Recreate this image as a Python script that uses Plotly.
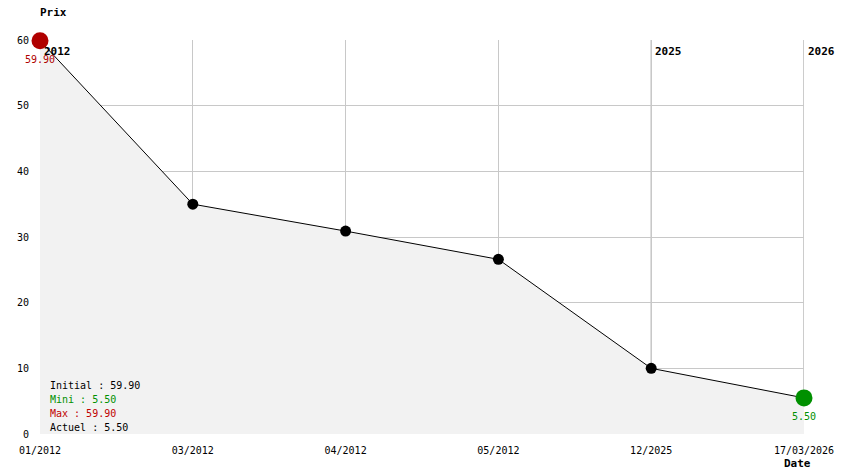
import plotly.graph_objects as go

dates = ["01/2012", "03/2012", "04/2012", "05/2012", "12/2025", "17/03/2026"]
prices = [59.90, 35.0, 30.9, 26.6, 10.0, 5.50]
year_marks = [(0, "2012"), (4, "2025"), (5, "2026")]
summary = [("Initial : 59.90", "#000000"), ("Mini : 5.50", "#009000"),
           ("Max : 59.90", "#c00000"), ("Actuel : 5.50", "#000000")]

FONT = "DejaVu Sans Mono"
xs = list(range(len(dates)))

fig = go.Figure()
fig.add_trace(go.Scatter(
    x=xs, y=prices, mode="lines", fill="tozeroy", fillcolor="#f2f2f2",
    line=dict(color="#000000", width=1), hoverinfo="skip"))
fig.add_trace(go.Scatter(
    x=xs[1:-1], y=prices[1:-1], mode="markers",
    marker=dict(color="#000000", size=11), hoverinfo="skip"))
fig.add_trace(go.Scatter(
    x=[xs[0]], y=[prices[0]], mode="markers",
    marker=dict(color="#b00000", size=17), hoverinfo="skip", cliponaxis=False))
fig.add_trace(go.Scatter(
    x=[xs[-1]], y=[prices[-1]], mode="markers",
    marker=dict(color="#009000", size=17), hoverinfo="skip", cliponaxis=False))

# year separator lines
for xi, lab in year_marks[1:]:
    fig.add_shape(type="line", x0=xi, x1=xi, y0=0, y1=60, xref="x", yref="y",
                  line=dict(color="#999999", width=1), layer="below")
for xi, lab in year_marks:
    fig.add_annotation(x=xi, y=60, xref="x", yref="y", text="<b>" + lab + "</b>",
                       showarrow=False, xanchor="left", yanchor="middle", xshift=2, yshift=-11,
                       font=dict(family=FONT, size=11, color="#000000"))

fig.add_annotation(x=xs[0], y=prices[0], text="59.90", showarrow=False,
                   yanchor="middle", yshift=-19, font=dict(family=FONT, size=10, color="#b00000"))
fig.add_annotation(x=xs[-1], y=prices[-1], text="5.50", showarrow=False,
                   yanchor="middle", yshift=-19, font=dict(family=FONT, size=10, color="#009000"))

for i, (txt, col) in enumerate(summary):
    fig.add_annotation(x=0, y=0, xref="x", yref="y", text=txt, showarrow=False,
                       xanchor="left", yanchor="middle", xshift=8, yshift=49 - i * 14.3,
                       font=dict(family=FONT, size=10, color=col))

fig.add_annotation(x=0, y=1, xref="paper", yref="paper", text="<b>Prix</b>",
                   showarrow=False, xanchor="left", yanchor="middle", yshift=28, xshift=-2,
                   font=dict(family=FONT, size=11, color="#000000"))
fig.add_annotation(x=1, y=0, xref="paper", yref="paper", text="<b>Date</b>",
                   showarrow=False, xanchor="center", yanchor="middle", yshift=-29, xshift=-7,
                   font=dict(family=FONT, size=11, color="#000000"))

fig.update_layout(
    width=836, height=466, margin=dict(l=32, r=40, t=32, b=40),
    paper_bgcolor="white", plot_bgcolor="white", showlegend=False,
    font=dict(family=FONT, size=10, color="#000000"),
    xaxis=dict(range=[0, 5], tickvals=xs, ticktext=dates, showgrid=True,
               gridcolor="#c8c8c8", gridwidth=1, zeroline=False, showline=False,
               ticks="", ticklabelstandoff=9, fixedrange=True, automargin=False),
    yaxis=dict(range=[0, 60], tickvals=[0, 10, 20, 30, 40, 50, 60], showgrid=True,
               gridcolor="#c8c8c8", gridwidth=1, zeroline=False, showline=False,
               ticks="", ticklabelstandoff=10, fixedrange=True, automargin=False),
)

fig.write_html("out.html")
